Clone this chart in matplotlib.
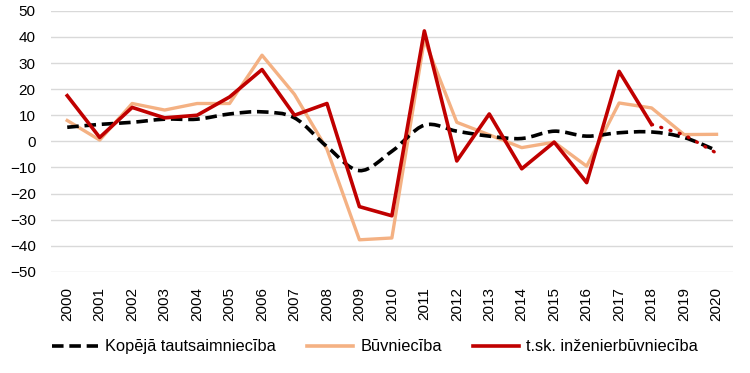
import matplotlib.pyplot as plt
from matplotlib.path import Path
from matplotlib.patches import PathPatch
from matplotlib.lines import Line2D

plt.rcParams['font.family'] = ['Liberation Sans', 'DejaVu Sans']

years = list(range(2000, 2021))
kopeja = [5.4, 6.5, 7.3, 8.5, 8.5, 10.5, 11.3, 9.0, -2.0, -11.2, -3.8, 6.2,
          3.9, 2.0, 1.1, 3.9, 2.0, 3.3, 3.6, 1.5, -3.5]
buvn = [8.0, 0.5, 14.5, 12.0, 14.5, 14.5, 33.0, 18.0, -3.0, -37.7, -37.0, 39.0,
        7.3, 2.5, -2.4, -0.3, -9.5, 14.7, 12.8, 2.6, 2.7]
inzen = [17.5, 1.5, 13.0, 9.0, 10.0, 17.0, 27.5, 10.0, 14.5, -25.0, -28.5, 42.3,
         -7.5, 10.5, -10.5, -0.3, -15.8, 26.8, 6.5]
inzen_est = [6.5, 2.5, -4.5]  # 2018-2020, dotted

BLACK = '#000000'
ORANGE = '#f4b183'
RED = '#c00000'


def smooth_path(xs, ys, t=1 / 6):
    # Catmull-Rom style bezier, like a smoothed spreadsheet line
    verts = [(xs[0], ys[0])]
    codes = [Path.MOVETO]
    n = len(xs)
    for i in range(n - 1):
        x0, y0 = xs[max(i - 1, 0)], ys[max(i - 1, 0)]
        x1, y1 = xs[i], ys[i]
        x2, y2 = xs[i + 1], ys[i + 1]
        x3, y3 = xs[min(i + 2, n - 1)], ys[min(i + 2, n - 1)]
        c1 = (x1 + (x2 - x0) * t, y1 + (y2 - y0) * t)
        c2 = (x2 - (x3 - x1) * t, y2 - (y3 - y1) * t)
        verts += [c1, c2, (x2, y2)]
        codes += [Path.CURVE4] * 3
    return Path(verts, codes)


fig = plt.figure(figsize=(7.5, 3.73), dpi=100)
ax = fig.add_axes([0.068, 0.271, 0.909, 0.70])

ax.plot(years, buvn, color=ORANGE, lw=2.4, zorder=3)
ax.add_patch(PathPatch(smooth_path(years, kopeja), fill=False, edgecolor=BLACK,
                       lw=2.6, linestyle=(0, (3.2, 1.6)), zorder=4))
ax.plot(years[:len(inzen)], inzen, color=RED, lw=2.6, zorder=5)
ax.plot(years[18:], inzen_est, color=RED, lw=2.4, linestyle=(0, (0.3, 2.6)),
        dash_capstyle='round', zorder=5)

ax.set_xlim(1999.5, 2020.5)
ax.set_ylim(-50, 50)
ax.set_yticks(range(-50, 51, 10))
ax.set_xticks(years)
ax.set_xticklabels([str(y) for y in years], rotation=90)
ax.tick_params(length=0, labelsize=11, colors='#000000')
ax.tick_params(axis='y', pad=11)
ax.tick_params(axis='x', pad=11)
ax.grid(axis='y', color='#d9d9d9', lw=1)
ax.set_axisbelow(True)
for s in ax.spines.values():
    s.set_visible(False)

handles = [
    Line2D([], [], color=BLACK, lw=2.6, linestyle=(0, (3.2, 1.6))),
    Line2D([], [], color=ORANGE, lw=2.6),
    Line2D([], [], color=RED, lw=2.6),
]
labels = ['Kopējā tautsaimniecība', 'Būvniecība', 't.sk. inženierbūvniecība']
fig.legend(handles, labels, loc='center', bbox_to_anchor=(0.5, 0.07), ncol=3,
           frameon=False, fontsize=11.8, handlelength=2.8, handletextpad=0.45,
           columnspacing=1.9)

fig.savefig('out.png', dpi=100)
